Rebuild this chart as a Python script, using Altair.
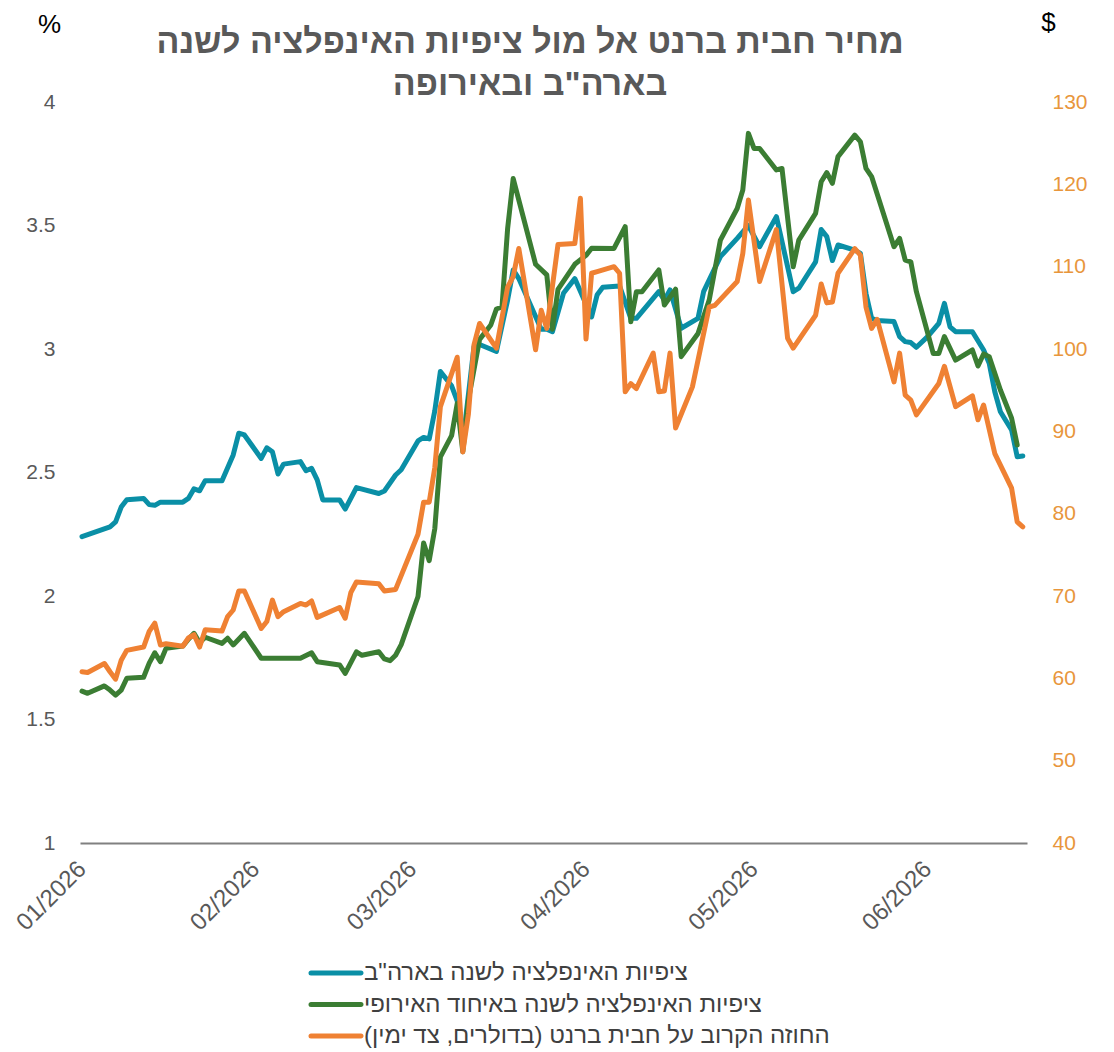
import altair as alt
import pandas as pd

# ---- data (day offset from 2026-01-01, value) ----
us_days = [0,5,6,7,8,11,12,13,14,18,19,20,21,22,25,27,28,29,32,33,34,35,36,39,40,41,42,43,46,47,49,53,54,56,57,60,61,62,63,64,66,67,68,70,71,74,76,77,78,82,83,84,86,88,91,92,93,96,98,99,103,104,105,107,110,111,114,117,119,121,124,127,128,131,132,133,134,135,138,139,140,141,142,145,146,147,148,149,151,153,154,155,156,159,161,162,163,164,166,167,168]
us_vals = [2.24,2.28,2.30,2.36,2.39,2.395,2.37,2.367,2.38,2.38,2.395,2.434,2.426,2.467,2.467,2.571,2.659,2.652,2.557,2.60,2.584,2.494,2.534,2.544,2.507,2.517,2.47,2.389,2.389,2.352,2.439,2.415,2.425,2.49,2.511,2.628,2.642,2.636,2.75,2.909,2.851,2.79,2.62,3.01,3.018,2.99,3.198,3.32,3.285,3.08,3.08,3.07,3.227,3.285,3.13,3.22,3.25,3.255,3.124,3.124,3.232,3.198,3.239,3.084,3.124,3.232,3.374,3.448,3.50,3.414,3.536,3.232,3.246,3.353,3.484,3.455,3.358,3.421,3.40,3.387,3.225,3.124,3.115,3.111,3.05,3.03,3.026,3.007,3.05,3.104,3.185,3.09,3.07,3.07,2.996,2.942,2.827,2.746,2.672,2.564,2.567]

eu_days = [0,1,4,5,6,7,8,11,12,13,14,15,18,19,20,21,22,25,26,27,29,32,39,41,42,46,47,49,50,53,54,55,56,57,60,61,62,63,64,66,67,68,69,71,73,74,75,76,77,81,83,84,85,88,90,91,95,97,98,99,100,103,104,106,107,110,111,112,114,117,118,119,120,121,124,125,127,128,131,132,133,134,135,138,139,140,141,145,146,147,148,149,152,153,154,156,159,160,161,162,164,166,167]
eu_vals = [1.615,1.606,1.636,1.619,1.599,1.619,1.667,1.671,1.728,1.770,1.734,1.788,1.797,1.825,1.849,1.811,1.833,1.808,1.829,1.802,1.849,1.748,1.748,1.77,1.734,1.721,1.687,1.774,1.760,1.774,1.745,1.738,1.76,1.803,1.998,2.215,2.143,2.273,2.563,2.649,2.779,2.584,2.794,3.039,3.097,3.162,3.17,3.487,3.69,3.343,3.30,3.08,3.241,3.343,3.379,3.408,3.407,3.495,3.110,3.232,3.232,3.32,3.178,3.242,2.969,3.063,3.131,3.198,3.441,3.569,3.644,3.873,3.812,3.812,3.725,3.731,3.333,3.441,3.549,3.677,3.714,3.671,3.779,3.866,3.839,3.731,3.698,3.414,3.448,3.36,3.353,3.232,2.982,2.982,3.05,2.955,2.996,2.931,2.98,2.969,2.834,2.72,2.611]

br_days = [0,1,4,5,6,7,8,11,12,13,14,15,18,19,20,21,22,25,26,27,28,29,32,33,34,35,36,39,40,41,42,46,47,48,49,53,54,56,60,61,62,63,64,67,68,69,70,71,74,76,77,78,81,82,83,85,88,89,90,91,92,95,96,97,98,99,102,103,104,105,106,109,112,113,117,118,119,121,124,126,127,131,132,133,134,135,138,139,140,141,142,145,146,147,148,149,153,154,156,159,160,161,163,166,167,168]
br_vals = [60.8,60.7,61.8,60.8,59.9,62.2,63.4,63.8,65.7,66.7,64.05,64.2,63.9,64.9,65.3,63.8,65.9,65.75,67.5,68.3,70.6,70.6,66.05,66.9,69.5,67.5,68.1,69.1,68.9,69.4,67.4,68.6,67.3,70.4,71.7,71.5,70.6,70.8,77.5,81.4,81.4,85.6,93.0,99.0,87.5,92.1,100.5,103.1,100.1,107.5,108.8,112.2,99.9,104.7,102.5,112.7,112.8,118.3,101.2,109.2,109.4,110.0,109.2,94.8,95.8,95.2,99.5,94.8,94.9,99.5,90.4,95.4,105.1,105.3,108.2,111.6,118.1,108.2,114.5,101.3,100.1,104.1,107.9,105.6,105.7,109.2,112.2,111.4,105.1,102.5,103.6,96.0,99.5,94.4,93.8,92.0,95.8,97.9,93.0,94.3,91.4,93.2,87.3,83.1,79.0,78.4]

US = "ציפיות האינפלציה לשנה בארה\"ב"
EU = "ציפיות האינפלציה לשנה באיחוד האירופי"
BR = "\u200fהחוזה הקרוב על חבית ברנט (בדולרים, צד ימין)\u200f"
TITLE = ["מחיר חבית ברנט אל מול ציפיות האינפלציה לשנה", "בארה\"ב ובאירופה"]
month_ticks = ["2026-01-01", "2026-02-01", "2026-03-01", "2026-04-01", "2026-05-01", "2026-06-01"]
left_ticks = [1, 1.5, 2, 2.5, 3, 3.5, 4]
right_ticks = [40, 50, 60, 70, 80, 90, 100, 110, 120, 130]

COLORS = ["#0A8FA6", "#3B7D33", "#EF8133"]
F = "Liberation Sans"
GRAY = "#595959"

START = pd.Timestamp("2026-01-01", tz="UTC")


def ms(ts):
    return int(ts.value // 10**6)


def frame(days, vals, name):
    return pd.DataFrame({
        "date": [(START + pd.Timedelta(days=d)).strftime("%Y-%m-%d") for d in days],
        "value": vals,
        "series": name,
    })


df_us = frame(us_days, us_vals, US)
df_eu = frame(eu_days, eu_vals, EU)
df_br = frame(br_days, br_vals, BR)

x_domain = [ms(START - pd.Timedelta(hours=8.6)), ms(START + pd.Timedelta(hours=168.75 * 24))]
x_ticks = [ms(pd.Timestamp(t, tz="UTC")) for t in month_ticks]

x_enc = alt.X(
    "date:T",
    title=None,
    scale=alt.Scale(type="utc", domain=x_domain),
    axis=alt.Axis(
        values=x_ticks, labelExpr="utcFormat(datum.value, '%m/%Y')",
        labelAngle=-45, labelAlign="right", labelBaseline="middle",
        labelPadding=22, labelFontSize=24, labelFont=F, labelColor=GRAY,
        labelOverlap=False, labelFlush=False,
        ticks=False, grid=False, domainColor="#808080", domainWidth=2,
    ),
)

CAPSULE = "M-2.5,-0.12H2.5A0.12,0.12,0,0,1,2.5,0.12H-2.5A0.12,0.12,0,0,1,-2.5,-0.12Z"
legend = alt.Legend(
    orient="none", legendX=244, legendY=859, direction="vertical", title=None,
    symbolType=CAPSULE, symbolSize=400, symbolStrokeWidth=2.6,
    labelFontSize=24, labelFont=F, labelColor="#404040", labelLimit=900,
    labelOffset=16, rowPadding=7.5, padding=0,
)
color_enc = alt.Color("series:N", scale=alt.Scale(domain=[US, EU, BR], range=COLORS), legend=legend)

left_axis = alt.Axis(
    values=left_ticks, format=".1~f", labelFontSize=21, labelFont=F, labelColor=GRAY,
    domain=False, ticks=False, grid=False, labelPadding=25,
    title="%", titleAngle=0, titleX=-31, titleY=-78, titleAlign="center",
    titleBaseline="middle", titleFontSize=26, titleFontWeight="normal",
    titleColor="#000000", titleFont=F,
)
right_axis = alt.Axis(
    orient="right", values=right_ticks, labelFontSize=21, labelFont=F,
    labelColor="#E8963C", domain=False, ticks=False, grid=False, labelPadding=25,
    title="$", titleAngle=0, titleX=21, titleY=-80, titleAlign="center",
    titleBaseline="middle", titleFontSize=26, titleFontWeight="normal",
    titleColor="#000000", titleFont=F,
)

line_kw = dict(strokeWidth=5, strokeCap="round", strokeJoin="round")
y_left = alt.Y("value:Q", scale=alt.Scale(domain=[1, 4], nice=False, zero=False), axis=left_axis)

us_line = alt.Chart(df_us).mark_line(**line_kw).encode(x=x_enc, y=y_left, color=color_enc)
eu_line = alt.Chart(df_eu).mark_line(**line_kw).encode(x=x_enc, y=y_left, color=color_enc)
left = alt.layer(us_line, eu_line)

br_line = alt.Chart(df_br).mark_line(**line_kw).encode(
    x=x_enc,
    y=alt.Y("value:Q", scale=alt.Scale(domain=[40, 130], nice=False, zero=False), axis=right_axis),
    color=color_enc,
)

chart = alt.layer(left, br_line).resolve_scale(y="independent").properties(
    width=947, height=741,
    autosize=alt.AutoSizeParams(type="none"),
    padding={"left": 72, "top": 94, "right": 61, "bottom": 209},
    title=alt.TitleParams(
        text=TITLE, fontSize=34, font=F, fontWeight="bold", color=GRAY,
        anchor="middle", dx=-23.5, dy=93, offset=0, lineHeight=42,
    ),
).configure_view(strokeWidth=0)

chart.save("out.html", embed_options={"renderer": "svg", "actions": False})
